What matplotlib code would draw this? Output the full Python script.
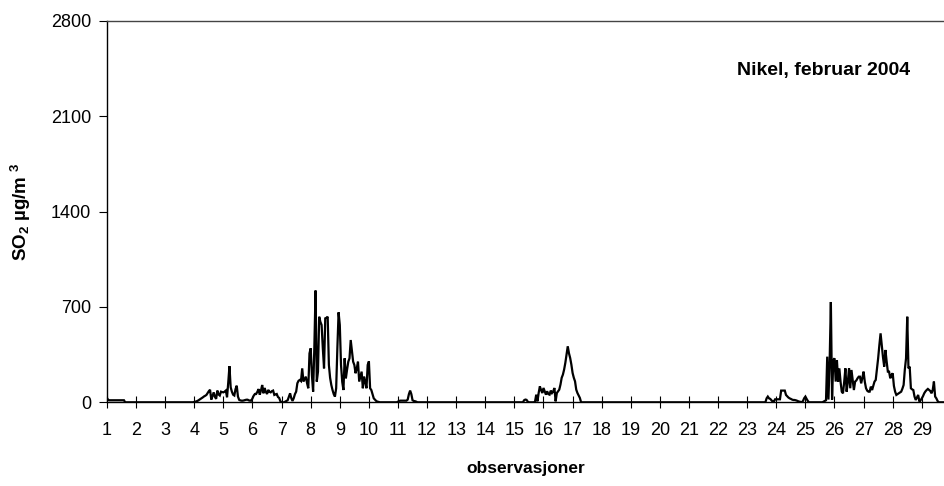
import numpy as np
import matplotlib
matplotlib.use("Agg")
import matplotlib.pyplot as plt

plt.rcParams['font.family'] = ['Liberation Sans', 'DejaVu Sans']
plt.rcParams['mathtext.fontset'] = 'custom'
plt.rcParams['mathtext.rm'] = 'Liberation Sans:bold'
plt.rcParams['mathtext.default'] = 'rm'

# ---- data: hourly SO2 (µg/m3), Nikel, February 2004 ----
n_hours = 691
day_labels = [str(d) for d in range(1, 30)]
y_ticks = [0, 700, 1400, 2100, 2800]

ep0_start = 0
ep0 = [30, 18, 15, 15, 15, 15, 15, 15, 15, 15, 15, 15, 15, 15, 15, 0]

epA_start = 71
epA = [0, 3, 5, 8, 12, 18, 24, 30, 36, 43, 48, 54,
       68, 82, 92, 20, 45, 73, 40, 25, 86, 58, 50, 78,
       75, 73, 78, 86, 37, 145, 265, 110, 78, 56, 50, 97,
       122, 42, 18, 14, 12, 12, 14, 17, 19, 19, 14, 12,
       12, 29, 49, 61, 61, 77, 97, 56, 87, 127, 66, 105,
       77, 61, 91, 77, 73, 82, 86, 54, 58, 61, 39, 32,
       8, 0]

epB_start = 145
epB = [0, 0, 5, 10, 15, 40, 66, 30, 10, 30, 60, 78,
       140, 158, 164, 156, 249, 152, 170, 188, 140, 103, 359, 396,
       200, 78, 400, 820, 152, 225, 628, 590, 567, 396, 249, 616,
       620, 628, 274, 180, 127, 90, 60, 42, 103, 400, 660, 567,
       274, 150, 90, 323, 176, 240, 298, 323, 457, 380, 298, 274,
       213, 250, 298, 152, 190, 225, 103, 188, 150, 103, 274, 300,
       103, 90, 60, 29, 20, 10, 5, 3, 0, 0, 0]

epC_start = 240
epC = [5, 10, 12, 12, 12, 12, 12, 12, 20, 60, 86, 60,
       15, 10, 8, 5, 0]

epD_start = 343
epD = [0, 15, 20, 18, 5, 0, 0, 0, 0, 0, 5, 56,
       7, 68, 117, 90, 68, 105, 80, 56, 81, 60, 56, 86,
       68, 80, 105, 7, 68, 80, 93, 130, 180, 203, 240, 289,
       350, 411, 360, 325, 276, 215, 180, 154, 93, 68, 50, 32,
       0]

epE_start = 543
epE = [0, 29, 42, 29, 25, 15, 5, 5, 22, 22, 22, 22,
       22, 86, 86, 86, 86, 54, 45, 35, 29, 25, 20, 17,
       17, 15, 12, 8, 5, 3, 0, 10, 30, 42, 25, 10,
       0, 0, 0, 0, 0, 0, 0, 0, 0, 0, 0, 0,
       5, 10, 15, 335, 20, 300, 736, 20, 310, 323, 152, 310,
       152, 249, 150, 78, 66, 150, 249, 78, 150, 249, 103, 237,
       160, 90, 152, 160, 176, 188, 188, 139, 180, 225, 150, 103,
       85, 78, 78, 115, 90, 120, 152, 164, 240, 323, 420, 506,
       420, 330, 262, 384, 300, 225, 225, 176, 200, 213, 120, 78,
       54, 60, 66, 72, 78, 100, 127, 240, 323, 628, 249, 262,
       103, 95, 90, 42, 17, 35, 54, 5, 15, 29, 45, 66,
       80, 90, 98, 90, 83, 66, 90, 152, 42, 29, 10, 0]

episodes = [(ep0_start, ep0), (epA_start, epA), (epB_start, epB),
            (epC_start, epC), (epD_start, epD), (epE_start, epE)]

so2 = np.zeros(n_hours)
for start, vals in episodes:
    so2[start:start + len(vals)] = vals
hours = np.arange(n_hours)

# ---- figure ----
W, H = 944, 486
fig = plt.figure(figsize=(W / 100, H / 100), dpi=100)
ax = fig.add_axes([107 / W, 1 - 402.3 / H, (W - 107) / W, (402.3 - 20.7) / H])

ax.plot(hours, so2, color='black', lw=1.6, solid_joinstyle='miter')

ax.set_xlim(0, (W - 107) / 1.2125)
ax.set_ylim(0, 2800)
ax.set_yticks(y_ticks)
ax.set_yticklabels([str(v) for v in y_ticks])
ax.set_xticks([(int(d) - 1) * 24 for d in day_labels])
ax.set_xticklabels(day_labels)

ax.spines['right'].set_visible(False)
for s in ['left', 'bottom', 'top']:
    ax.spines[s].set_linewidth(1.0)
    ax.spines[s].set_color('black')
ax.spines['top'].set_color('#444444')

ax.tick_params(axis='y', direction='out', length=5.5, width=0.8,
               labelsize=13, pad=6)
ax.tick_params(axis='x', direction='inout', length=8, width=0.8,
               labelsize=13, pad=10)

ax.set_ylabel('SO$_2$ µg/m $^3$', fontsize=13.5, fontweight='bold', labelpad=13)
ax.set_xlabel('observasjoner', fontsize=12.5, fontweight='bold', labelpad=16)

ax.text((910 - 107) / (W - 107), (402.3 - 75) / 381.6, 'Nikel, februar 2004',
        transform=ax.transAxes, ha='right', va='baseline',
        fontsize=14, fontweight='bold')

fig.savefig('out.png', dpi=100)
